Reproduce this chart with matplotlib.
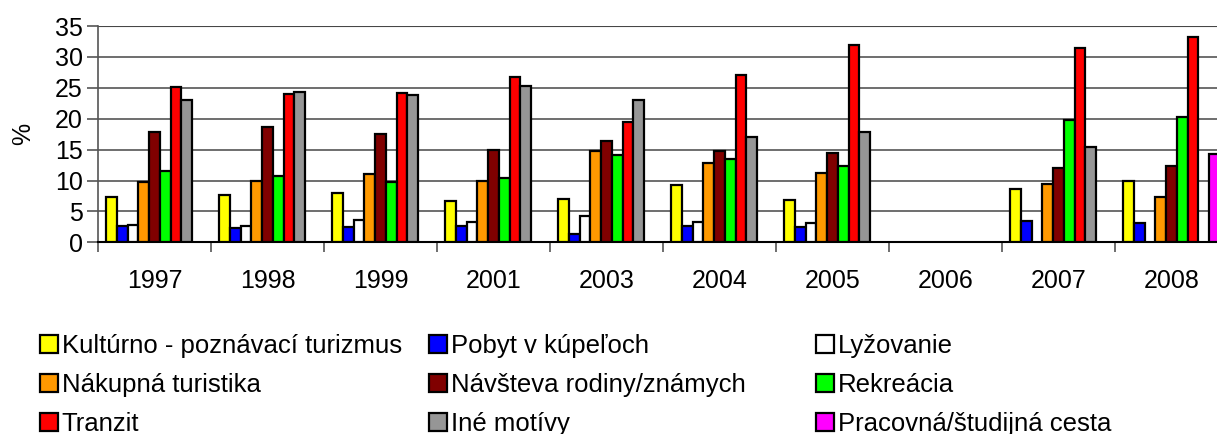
import numpy as np
import matplotlib
matplotlib.use('Agg')
import matplotlib.pyplot as plt
from matplotlib.ticker import MultipleLocator, FixedLocator

plt.rcParams['font.family'] = ['Liberation Sans', 'DejaVu Sans']

years = ['1997', '1998', '1999', '2001', '2003', '2004', '2005', '2006', '2007', '2008']
nan = np.nan

# shares in %, one list per travel motive (nan = no value that year)
kulturno = [7.4, 7.6, 8.0, 6.7, 7.0, 9.2, 6.9, nan, 8.7, 9.9]
kupele = [2.7, 2.3, 2.5, 2.7, 1.3, 2.7, 2.5, nan, 3.5, 3.1]
lyzovanie = [2.8, 2.6, 3.6, 3.3, 4.2, 3.3, 3.1, nan, nan, nan]
nakupna = [9.7, 9.9, 11.0, 9.9, 14.8, 12.9, 11.2, nan, 9.5, 7.4]
navsteva = [17.8, 18.6, 17.5, 15.0, 16.4, 14.7, 14.5, nan, 12.0, 12.3]
rekreacia = [11.6, 10.8, 9.8, 10.4, 14.2, 13.4, 12.4, nan, 19.8, 20.2]
tranzit = [25.1, 24.0, 24.1, 26.7, 19.4, 27.1, 32.0, nan, 31.4, 33.2]
ine = [23.0, 24.3, 23.9, 25.3, 23.0, 17.1, 17.9, nan, 15.5, nan]
pracovna = [nan, nan, nan, nan, nan, nan, nan, nan, nan, 14.3]

series = [
    ('Kultúrno - poznávací turizmus', kulturno, '#FFFF00'),
    ('Pobyt v kúpeľoch', kupele, '#0000FF'),
    ('Lyžovanie', lyzovanie, '#FFFFFF'),
    ('Nákupná turistika', nakupna, '#FF9900'),
    ('Návšteva rodiny/známych', navsteva, '#800000'),
    ('Rekreácia', rekreacia, '#00FF00'),
    ('Tranzit', tranzit, '#FF0000'),
    ('Iné motívy', ine, '#969696'),
    ('Pracovná/študijná cesta', pracovna, '#FF00FF'),
]

fig = plt.figure(figsize=(12.17, 4.34), dpi=100)
ax = fig.add_axes([98 / 1217, 191.7 / 434, 1130 / 1217, 216.3 / 434])

x = np.arange(len(years))
w = 0.858 / len(series)
handles = []
for j, (name, vals, col) in enumerate(series):
    b = ax.bar(x + (j - 4) * w, vals, w, color=col, edgecolor='black',
               linewidth=1.6, label=name, zorder=3)
    handles.append(b)

ax.set_xlim(-0.5, len(years) - 0.5)
ax.set_ylim(0, 35)
ax.yaxis.set_major_locator(MultipleLocator(5))
ax.yaxis.grid(True, color='#555555', linewidth=1.2, zorder=0)
ax.axhline(35, color='black', linewidth=1.5, zorder=1)
ax.set_xticks(x)
ax.set_xticklabels(years, fontsize=18)
ax.xaxis.set_minor_locator(FixedLocator(np.arange(-0.5, len(years), 1)))
ax.tick_params(axis='x', which='major', length=0, pad=19)
ax.tick_params(axis='x', which='minor', length=7, width=1.2, color='#555555')
ax.tick_params(axis='y', length=8, width=1.2, labelsize=18, pad=3, color='#555555')
for s in ['top', 'right']:
    ax.spines[s].set_visible(False)
ax.spines['left'].set_color('#555555')
ax.spines['left'].set_linewidth(1.2)
ax.spines['bottom'].set_linewidth(1.5)
ax.set_ylabel('%', fontsize=18, labelpad=14)

# legend laid out row by row in three fixed columns
col_x = [40, 429, 816]
for c in range(3):
    hs = [handles[r * 3 + c] for r in range(3)]
    fig.legend(hs, [h.get_label() for h in hs], loc='upper left',
               bbox_to_anchor=(col_x[c] / 1217, 1 - 334 / 434),
               frameon=False, fontsize=18.5, handlelength=0.7, handleheight=0.7,
               handletextpad=0.15, labelspacing=0.58, borderpad=0, borderaxespad=0)

fig.savefig('out.png', dpi=100)
